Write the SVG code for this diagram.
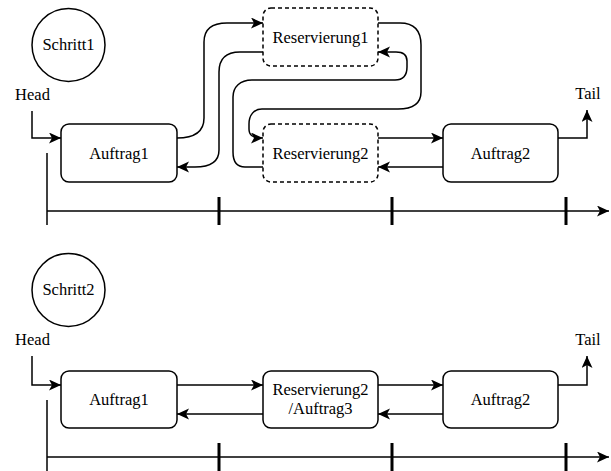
<svg xmlns="http://www.w3.org/2000/svg" width="611" height="471" viewBox="0 0 611 471">
  <style>
    text { font-size: 16.5px; fill: #000; text-anchor: middle; }
    .box { fill: #fff; stroke: #000; stroke-width: 1.5; }
    .dash { stroke-dasharray: 4 3; }
    .step { fill: #fff; stroke: #000; stroke-width: 1.5; }
    .edge { fill: none; stroke: #000; stroke-width: 1.5; marker-end: url(#arrow); }
    .line { fill: none; stroke: #000; stroke-width: 1.5; }
    .tick { stroke: #000; stroke-width: 3; }
  </style>
  <defs>
    <marker id="arrow" markerUnits="userSpaceOnUse" markerWidth="13" markerHeight="12" refX="12" refY="5.5" orient="auto">
      <path d="M0,0 L12,5.5 L0,11 L3,5.5 Z" fill="#000"/>
    </marker>
  </defs>

  <g font-family="'Liberation Serif', 'DejaVu Serif', serif">
  <!-- Step 1 -->
  <g id="schritt1">
    <circle class="step" cx="68.5" cy="45" r="36.5"/>
    <text x="68.5" y="50">Schritt1</text>
  </g>
  <g id="head1"><text x="32.5" y="100">Head</text></g>
  <g id="tail1"><text x="588" y="99">Tail</text></g>

  <g id="timeline1">
    <path class="line" d="M47,153 L47,225"/>
    <path class="edge" d="M47,211 L609,211"/>
    <path class="tick" d="M219,197 L219,225 M392,197 L392,225 M566,197 L566,225"/>
  </g>

  <g id="connectors1">
    <path class="edge" d="M32,111 L32,138 L61,138"/>
    <path class="edge" d="M558,138 L587,138 L587,110"/>
    <path class="edge" d="M177,138 C195,138 204,132 204,118 L204,42 C204,29 212,23 227,23 L263,23"/>
    <path class="edge" d="M263,52 L240,52 C226,52 219,58 219,72 L219,150 C219,162 210,167 195,167 L177,167"/>
    <path class="edge" d="M378,23 L400,23 C414,23 421,30 421,45 L421,92 C421,103 413,109 398,109 L262,109 C254,109 249,115 249,124 L249,129 C249,135 252,138 263,138"/>
    <path class="edge" d="M263,167 L245,167 C237,167 233,162 233,152 L233,97 C233,87 240,80 252,80 L395,80 C403,80 407,75 407,67 L407,61 C407,55 404,52 396,52 L378,52"/>
    <path class="edge" d="M378,138 L443,138"/>
    <path class="edge" d="M443,167 L378,167"/>
  </g>

  <g id="auftrag1-a">
    <rect class="box" x="61" y="124" width="116" height="58" rx="8"/>
    <text x="119" y="158.5">Auftrag1</text>
  </g>
  <g id="reservierung1">
    <rect class="box dash" x="263" y="8" width="115" height="58" rx="8"/>
    <text x="320.5" y="42.5">Reservierung1</text>
  </g>
  <g id="reservierung2">
    <rect class="box dash" x="263" y="124" width="115" height="58" rx="8"/>
    <text x="320.5" y="158.5">Reservierung2</text>
  </g>
  <g id="auftrag2-a">
    <rect class="box" x="443" y="124" width="115" height="58" rx="8"/>
    <text x="500.5" y="158.5">Auftrag2</text>
  </g>

  <!-- Step 2 -->
  <g id="schritt2">
    <circle class="step" cx="68.5" cy="290" r="36.5"/>
    <text x="68.5" y="295">Schritt2</text>
  </g>
  <g id="head2"><text x="32.5" y="345">Head</text></g>
  <g id="tail2"><text x="588" y="345">Tail</text></g>

  <g id="timeline2">
    <path class="line" d="M47,400 L47,471"/>
    <path class="edge" d="M47,457 L609,457"/>
    <path class="tick" d="M219,443 L219,471 M392,443 L392,471 M566,443 L566,471"/>
  </g>

  <g id="connectors2">
    <path class="edge" d="M32,356 L32,385 L61,385"/>
    <path class="edge" d="M558,385 L587,385 L587,356"/>
    <path class="edge" d="M177,385 L263,385"/>
    <path class="edge" d="M263,414 L177,414"/>
    <path class="edge" d="M378,385 L443,385"/>
    <path class="edge" d="M443,414 L378,414"/>
  </g>

  <g id="auftrag1-b">
    <rect class="box" x="61" y="371" width="116" height="57" rx="8"/>
    <text x="119" y="405">Auftrag1</text>
  </g>
  <g id="reservierung2-auftrag3">
    <rect class="box" x="263" y="371" width="115" height="57" rx="8"/>
    <text x="320.5" y="395">Reservierung2</text>
    <text x="320.5" y="414">/Auftrag3</text>
  </g>
  <g id="auftrag2-b">
    <rect class="box" x="443" y="371" width="115" height="57" rx="8"/>
    <text x="500.5" y="405">Auftrag2</text>
  </g>
  </g>
</svg>
